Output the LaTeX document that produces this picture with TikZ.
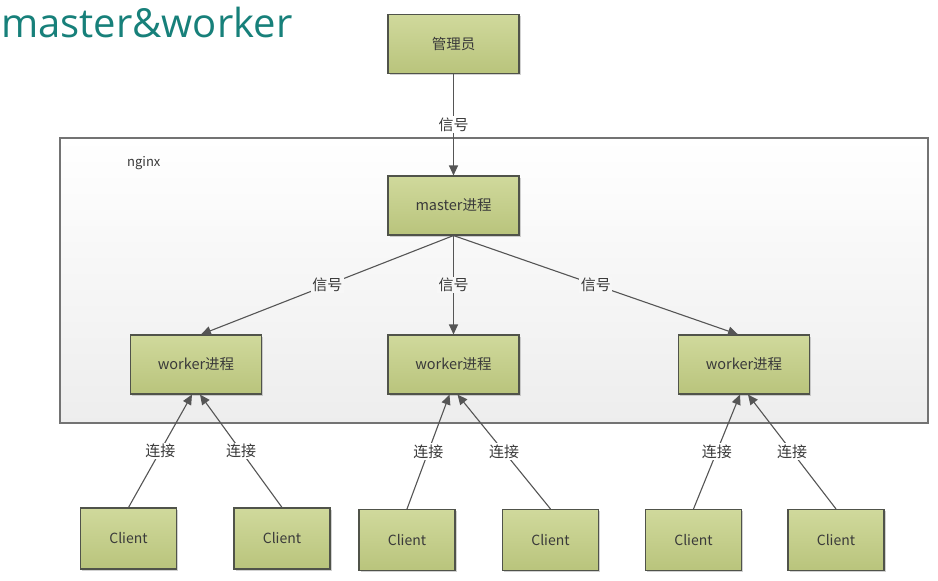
\documentclass[tikz,border=0pt]{standalone}
\usepackage{fontspec}
\setmainfont{Noto Sans CJK SC}
\newfontfamily\titlefont{Open Sans}
\usetikzlibrary{arrows.meta,shadows}
\definecolor{boxtop}{HTML}{D0D99C}
\definecolor{boxbot}{HTML}{B9C47C}
\definecolor{boxline}{HTML}{50534A}
\definecolor{linegray}{HTML}{555555}
\definecolor{txtgray}{HTML}{3A3A3A}
\definecolor{titleteal}{HTML}{17807A}
\begin{document}
\begin{tikzpicture}[x=1pt,y=-1pt,
  pbox/.style={draw=boxline, line width=1.1pt, top color=boxtop, bottom color=boxbot,
    minimum width=131pt, minimum height=59pt, inner sep=0pt, text=txtgray,
    font=\fontsize{14.5}{16}\selectfont,
    drop shadow={shadow xshift=1.5pt, shadow yshift=-1.5pt, fill=black!40, opacity=0.45}},
  cbox/.style={pbox, minimum width=96pt, minimum height=61pt, font=\fontsize{14}{16}\selectfont},
  conn/.style={draw=linegray, line width=1.1pt, -{Triangle[length=10pt,width=9pt]}},
  lbl/.style={fill=white, inner sep=1.5pt, text=txtgray, font=\fontsize{15}{16}\selectfont},
  lblin/.style={lbl, fill=black!3}
]
\useasboundingbox (0,0) rectangle (938,581);
\fill[white] (0,0) rectangle (938,581);
% title
\node[anchor=base west, inner sep=0pt, text=titleteal, font=\titlefont\fontsize{40}{42}\selectfont] (title) at (1,37) {master\&worker};
% container
\node[draw=black!55, line width=1.2pt, top color=white, bottom color=black!7,
  minimum width=868pt, minimum height=285pt, inner sep=0pt] (nginx) at (494,280.5) {};
\node[anchor=west, inner sep=0pt, text=txtgray, font=\fontsize{13}{14}\selectfont] (nginxlbl) at (127,163) {nginx};
% boxes
\node[pbox] (adm) at (453.5,44) {管理员};
\node[pbox] (master) at (453.5,205.5) {master进程};
\node[pbox] (w1) at (196,364.5) {worker进程};
\node[pbox] (w2) at (453.5,364.5) {worker进程};
\node[pbox] (w3) at (744,364.5) {worker进程};
\node[cbox] (c1) at (128.5,538.5) {Client};
\node[cbox] (c2) at (282,538.5) {Client};
\node[cbox] (c3) at (407,540) {Client};
\node[cbox] (c4) at (550.5,540) {Client};
\node[cbox] (c5) at (693.5,540) {Client};
\node[cbox] (c6) at (836,540) {Client};
% signals
\draw[conn] (adm) -- node[lbl]{信号} (master);
\draw[conn] (master.south) -- node[lblin]{信号} ([xshift=5pt]w1.north);
\draw[conn] (master.south) -- node[lblin]{信号} (w2.north);
\draw[conn] (master.south) -- node[lblin]{信号} ([xshift=-6pt]w3.north);
% connections
\draw[conn] (c1.north) -- node[lbl]{连接} ([xshift=-4pt]w1.south);
\draw[conn] (c2.north) -- node[lbl]{连接} ([xshift=4pt]w1.south);
\draw[conn] (c3.north) -- node[lbl]{连接} ([xshift=-4pt]w2.south);
\draw[conn] (c4.north) -- node[lbl]{连接} ([xshift=4pt]w2.south);
\draw[conn] (c5.north) -- node[lbl]{连接} ([xshift=-4pt]w3.south);
\draw[conn] (c6.north) -- node[lbl]{连接} ([xshift=4pt]w3.south);
\end{tikzpicture}
\end{document}
